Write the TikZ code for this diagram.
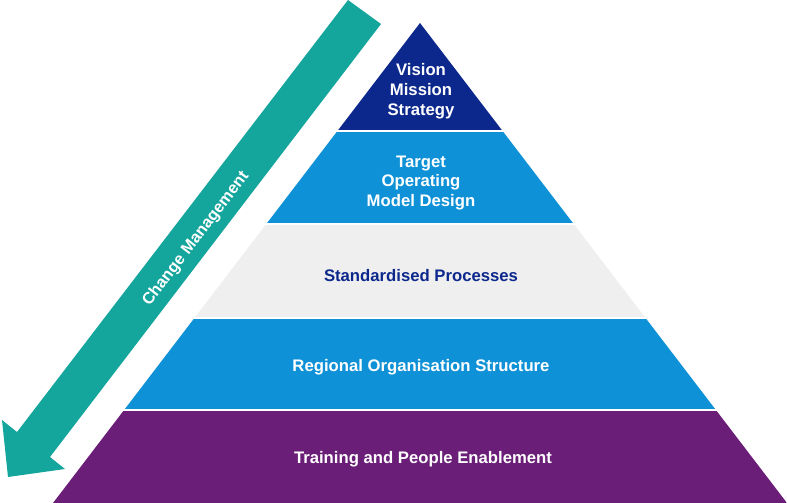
\documentclass[tikz,border=0pt]{standalone}
\usepackage{fontspec}
\setmainfont{Liberation Sans}
\usetikzlibrary{positioning}
\definecolor{navy}{RGB}{12,40,140}
\definecolor{midblue}{RGB}{15,145,215}
\definecolor{lightgrey}{RGB}{239,239,239}
\definecolor{plum}{RGB}{106,30,120}
\definecolor{teal}{RGB}{20,165,156}
\tikzstyle{layertext} = [text=white, align=center, font=\bfseries\fontsize{16.7}{19.8}\selectfont, inner sep=0pt]
\tikzstyle{arrowtext} = [text=white, font=\bfseries\fontsize{16.3}{18}\selectfont, inner sep=0pt]

\begin{document}
\begin{tikzpicture}[x=1pt,y=-1pt]
        \useasboundingbox (0,0) rectangle (787,503);
        \coordinate (apex) at (420,23);
        \coordinate (baseL) at (53,503);
        \coordinate (baseR) at (787,503);
        \begin{scope}
            \clip (apex) -- (baseL) -- (baseR) -- cycle;
            \fill[navy] (0,0) rectangle (787,130);
            \fill[midblue] (0,132) rectangle (787,223);
            \fill[lightgrey] (0,225) rectangle (787,317);
            \fill[midblue] (0,319) rectangle (787,409);
            \fill[plum] (0,411) rectangle (787,503);
        \end{scope}
        \node[layertext] (vision) at (421,91) {Vision\\Mission\\Strategy};
        \node[layertext] (target) at (421,183) {Target\\Operating\\Model Design};
        \node[layertext, text=navy] (process) at (421,276) {Standardised Processes};
        \node[layertext] (region) at (421,367) {Regional Organisation Structure};
        \node[layertext] (train) at (423,459) {Training and People Enablement};
        % change management arrow
        \fill[teal] (348,0) -- (381,24) -- (50,457) -- (65,469) -- (8,477)
            -- (2,420) -- (17,432) -- cycle;
        \node[arrowtext, rotate=52.6] (change) at (196,239) {Change Management};
    \end{tikzpicture}
\end{document}
